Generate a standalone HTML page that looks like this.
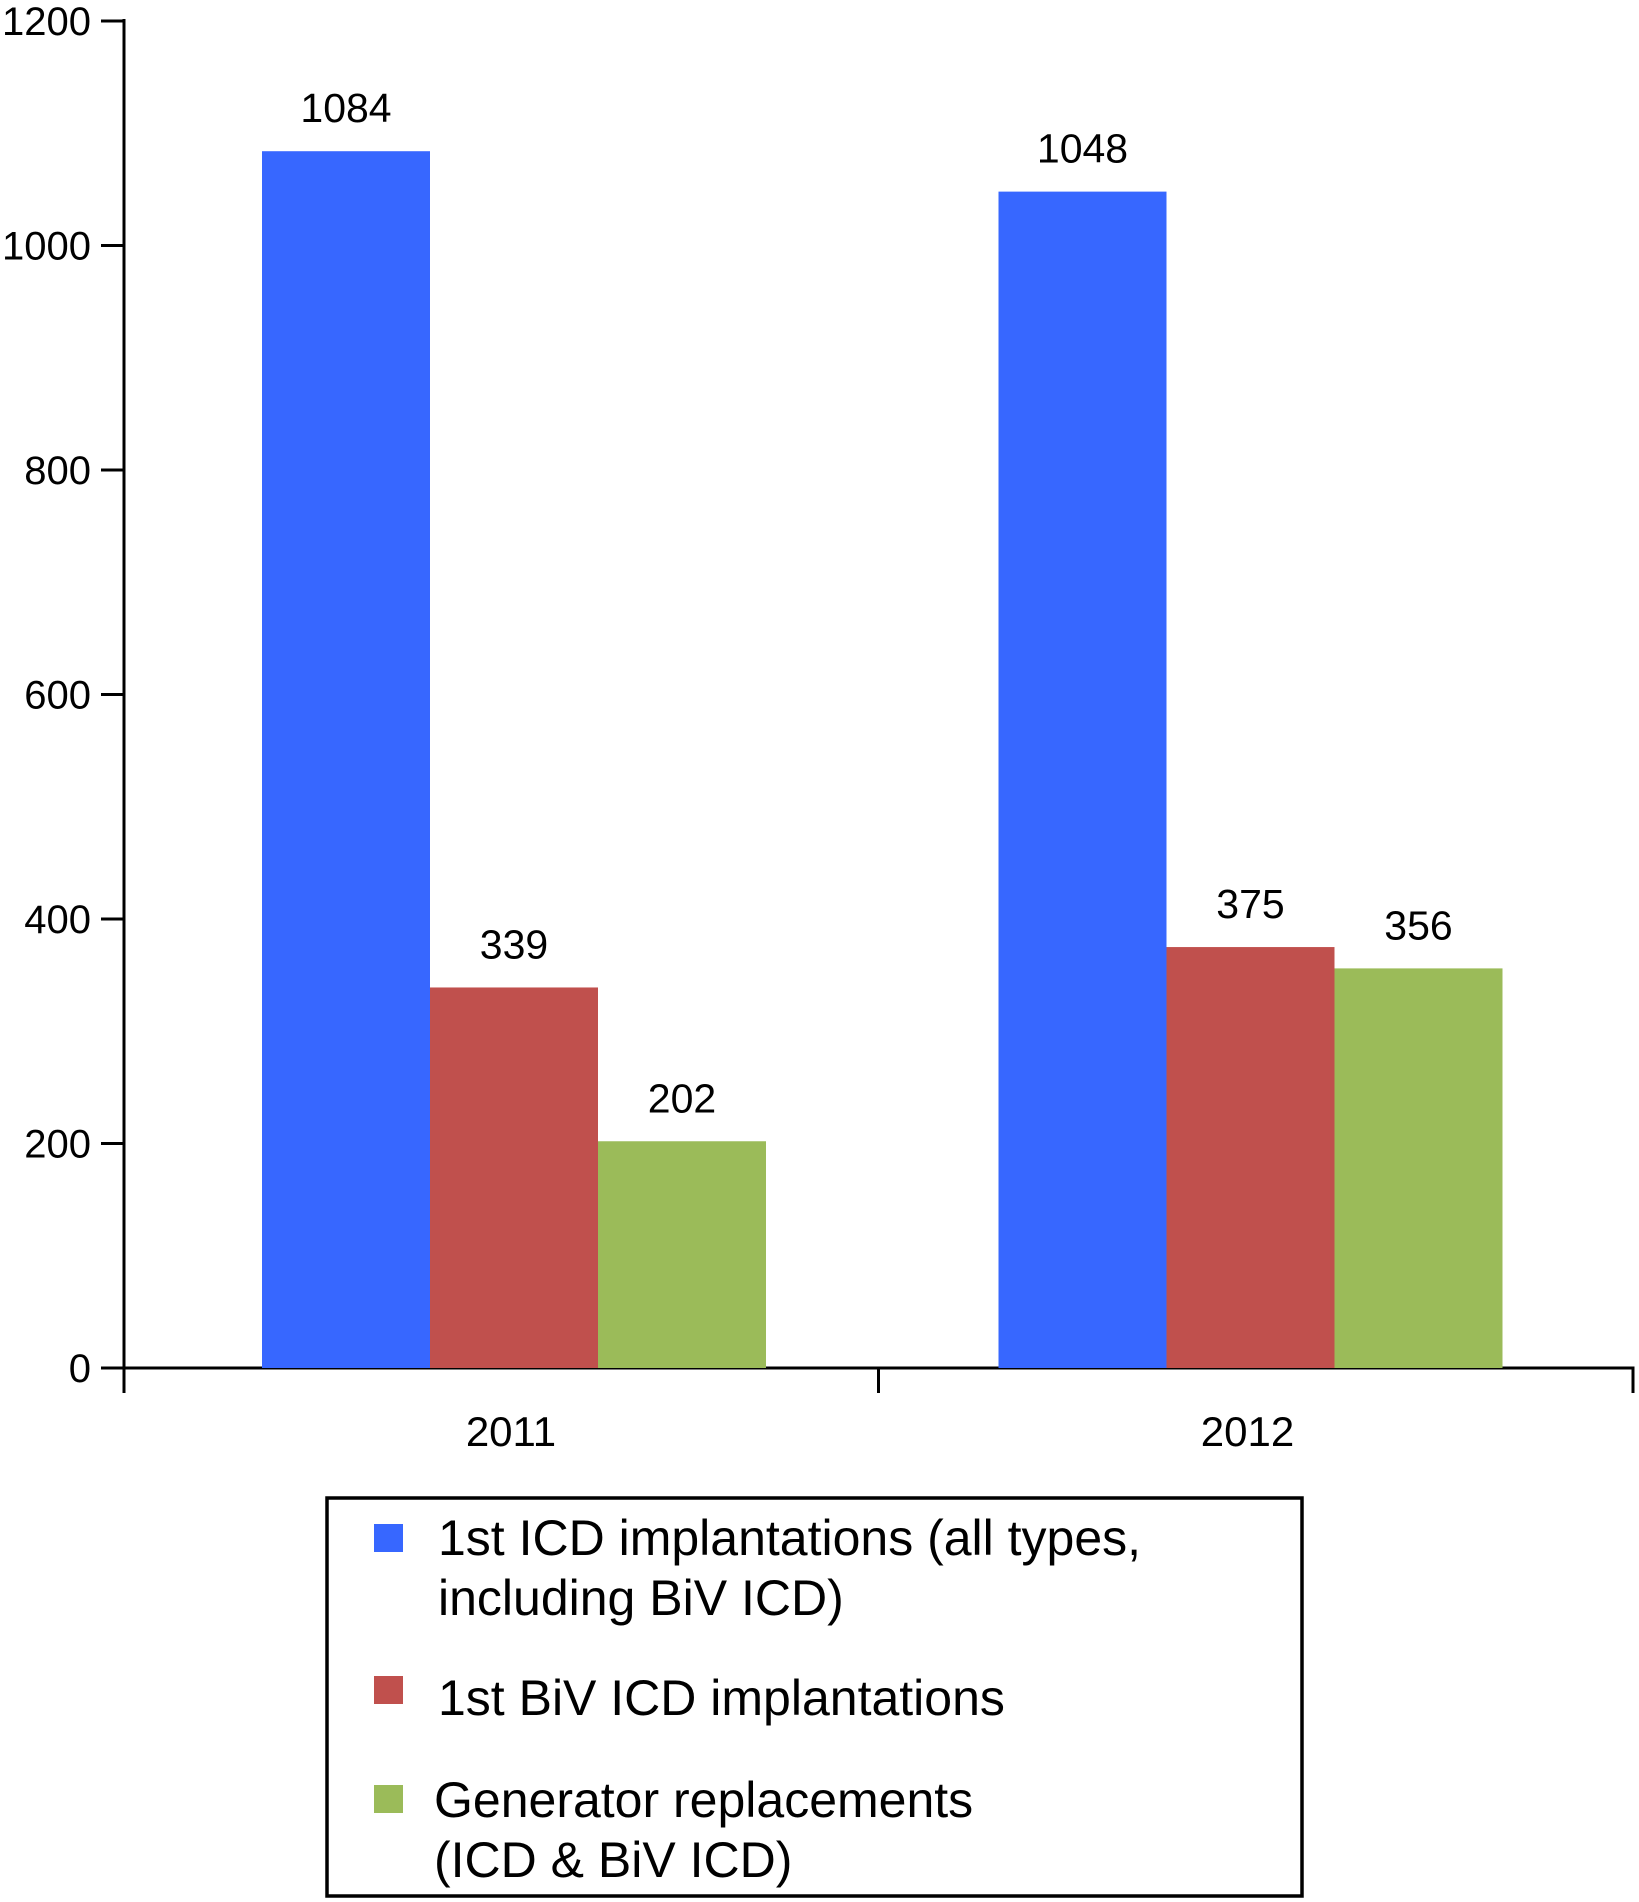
<!DOCTYPE html>
<html><head><meta charset="utf-8"><style>
html,body{margin:0;padding:0;background:#fff;}
svg{display:block;font-family:"Liberation Sans",sans-serif;}
</style></head><body>
<svg id="chart" width="1639" height="1902" viewBox="0 0 1639 1902" xmlns="http://www.w3.org/2000/svg">
<g id="axes"></g>
<g id="bars"></g>
<g id="legend">
  <rect x="327" y="1498" width="975" height="398" fill="#fff" stroke="#000" stroke-width="3.5"/>
  <rect x="374" y="1524" width="29" height="28" fill="#3767FF"/>
  <text x="438" y="1555" font-size="50">1st ICD implantations (all types,</text>
  <text x="438" y="1615" font-size="50">including BiV ICD)</text>
  <rect x="374" y="1676" width="29" height="28" fill="#C0504D"/>
  <text x="438" y="1715" font-size="50">1st BiV ICD implantations</text>
  <rect x="374" y="1785" width="29" height="28" fill="#9BBB59"/>
  <text x="434" y="1817" font-size="50">Generator replacements</text>
  <text x="434" y="1877" font-size="50">(ICD &amp; BiV ICD)</text>
</g>
</svg>
<script>
const categories = ["2011", "2012"];
const seriesNames = ["1st ICD implantations", "1st BiV ICD implantations", "Generator replacements"];
const icdValues = [1084, 1048];
const bivValues = [339, 375];
const generatorValues = [202, 356];
const yTicks = [0, 200, 400, 600, 800, 1000, 1200];

const NS = "http://www.w3.org/2000/svg";
const colors = ["#3767FF", "#C0504D", "#9BBB59"];
const axisX = 124, axisRight = 1633, y0 = 1368, yTop = 21, yMax = 1200;
const yScale = v => y0 - (v / yMax) * (y0 - yTop);
const catW = (axisRight - axisX) / categories.length;
const barW = 168;
const groupOffsets = [138, 120];
const xBar = (ci, si) => axisX + ci * catW + groupOffsets[ci] + si * barW;

function mk(tag, attrs, parent) {
  const el = document.createElementNS(NS, tag);
  for (const k in attrs) el.setAttribute(k, attrs[k]);
  parent.appendChild(el);
  return el;
}
const axes = document.getElementById("axes");
const bars = document.getElementById("bars");

const series = [icdValues, bivValues, generatorValues];
series.forEach((vals, si) => {
  vals.forEach((v, ci) => {
    const r = mk("rect", {x: xBar(ci, si), y: yScale(v), width: barW, height: y0 - yScale(v), fill: colors[si]}, bars);
    
    
    const t = mk("text", {x: xBar(ci, si) + barW / 2, y: yScale(v) - 29, "font-size": 41, "text-anchor": "middle"}, bars);
    t.textContent = v;
    
    
  });
});

const yAxis = mk("line", {x1: axisX, y1: yTop - 2, x2: axisX, y2: 1393, stroke: "#000", "stroke-width": 3}, axes);


yTicks.forEach(v => {
  const tk = mk("line", {x1: 101, y1: yScale(v), x2: axisX, y2: yScale(v), stroke: "#000", "stroke-width": 3}, axes);
  
  
  const tl = mk("text", {x: 91, y: yScale(v) + 14, "font-size": 40, "text-anchor": "end"}, axes);
  tl.textContent = v;
  
  
});
const xAxis = mk("line", {x1: 101, y1: y0, x2: axisRight + 1.5, y2: y0, stroke: "#000", "stroke-width": 3}, axes);


for (let i = 1; i <= categories.length; i++) {
  const x = axisX + i * catW;
  const tk = mk("line", {x1: x, y1: y0, x2: x, y2: 1393, stroke: "#000", "stroke-width": 3}, axes);
  
  
}
categories.forEach((c, ci) => {
  const tl = mk("text", {x: xBar(ci, 1) + barW / 2 - 3, y: 1446, "font-size": 42, "text-anchor": "middle"}, axes);
  tl.textContent = c;
  
  
});
</script>
</body></html>
